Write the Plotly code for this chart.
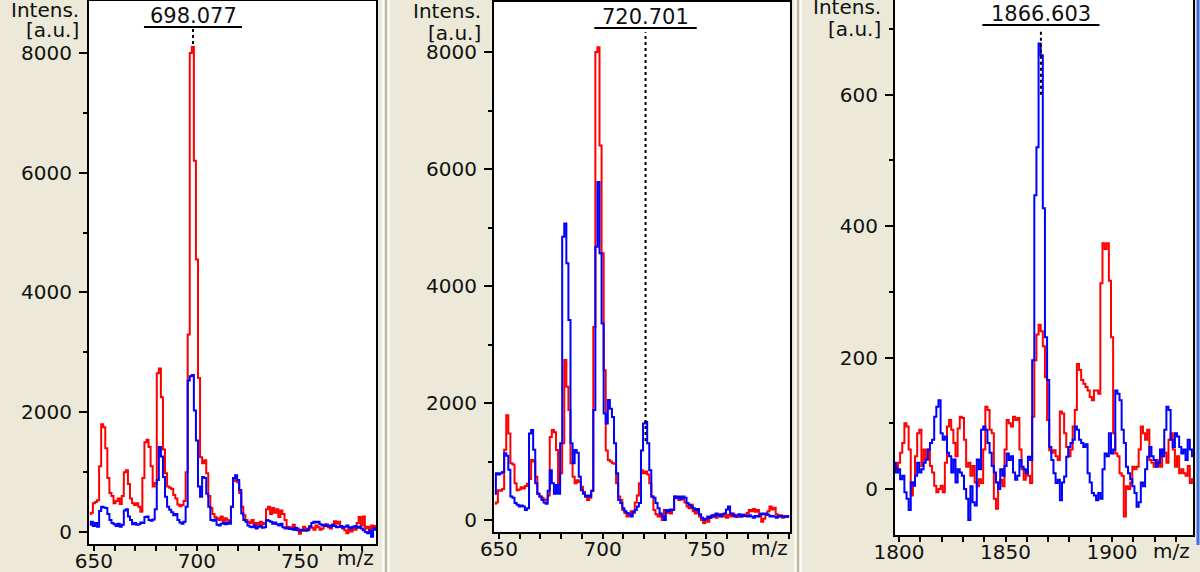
import numpy as np
import plotly.graph_objects as go

# ---------------------------------------------------------------
# Data, 1 m/z per sample
# ---------------------------------------------------------------
mz_a = np.arange(648, 788)
red_a = [300, 320, 480, 500, 530, 1100, 1800, 1750, 1400, 900,
         650, 600, 480, 520, 560, 470, 600, 1000, 1030, 800,
         560, 480, 450, 480, 420, 340, 900, 1500, 1540, 1420,
         1100, 760, 820, 2650, 2730, 2250, 1380, 980, 760, 740,
         720, 620, 560, 460, 430, 450, 520, 1000, 3300, 8000,
         8100, 6200, 4550, 2570, 1250, 1150, 1200, 980, 600, 400,
         300, 250, 230, 200, 260, 180, 230, 200, 180, 420,
         850, 870, 830, 650, 420, 280, 200, 170, 150, 200,
         130, 150, 120, 170, 130, 150, 380, 420, 300, 400,
         320, 380, 250, 360, 300, 200, 90, 80, 50, 120,
         40, 60, -30, 20, 90, 60, 30, 100, 70, 40,
         110, 80, 40, 60, 100, 130, 80, 60, 120, 180,
         140, 170, 90, 60, 30, -20, 50, 10, 80, 40,
         150, 250, 110, 260, 60, 90, 40, 110, 80, 100]
blue_a = [120, 170, 100, 150, 90, 350, 420, 410, 400, 300,
          200, 150, 130, 100, 140, 90, 120, 360, 380, 260,
          200, 130, 150, 120, 130, 160, 150, 250, 260, 200,
          190, 210, 380, 870, 1420, 1260, 920, 590, 420, 370,
          330, 280, 300, 200, 160, 140, 170, 420, 2530, 2600,
          2620, 2030, 1530, 760, 590, 920, 900, 640, 420, 200,
          190, 210, 120, 110, 140, 150, 130, 160, 140, 420,
          900, 950, 870, 700, 310, 200, 170, 110, 90, 80,
          110, 60, 90, 100, 70, 80, 200, 190, 170, 140,
          160, 130, 110, 140, 80, 60, 70, 50, 60, 40,
          70, 30, 20, 40, 30, 20, 40, 90, 150, 170,
          160, 170, 130, 110, 120, 100, 110, 90, 120, 100,
          80, 90, 100, 70, 90, 110, 80, 60, 90, 100,
          70, 90, 60, 30, 0, -20, 20, -80, 60, 40]

mz_b = np.arange(648, 791)
red_b = [280, 300, 510, 500, 530, 1200, 1790, 1480, 970, 950,
         630, 510, 520, 560, 540, 580, 620, 700, 1025, 1000,
         740, 450, 400, 380, 350, 340, 420, 1420, 1540, 1500,
         1195, 630, 800, 1310, 2735, 2280, 1880, 970, 740, 630,
         680, 650, 570, 480, 400, 340, 380, 500, 3300, 8000,
         8080, 6400, 4560, 2560, 1190, 1025, 1000, 970, 960, 630,
         400, 340, 170, 120, 60, 80, 150, 120, 300, 420,
         630, 850, 800, 830, 780, 630, 400, 170, 100, 60,
         90, 0, 170, 120, 150, 110, 170, 400, 370, 340,
         380, 350, 300, 230, 200, 260, 150, 110, 140, 60,
         0, -50, 10, -30, 40, 60, 90, 40, 70, 100,
         60, 80, 40, 90, 60, 110, 70, 50, 80, 60,
         90, 70, 120, 170, 150, 190, 140, 170, 60, -30,
         20, 90, 150, 230, 180, 210, 100, 60, 80, 40,
         70, 60, 50]
blue_b = [450, 800, 780, 800, 820, 1140, 1100, 860, 400, 380,
          290, 260, 230, 250, 230, 170, 200, 1480, 1540, 1200,
          630, 450, 400, 340, 300, 280, 500, 850, 630, 450,
          600, 450, 1310, 4840, 5070, 4390, 3420, 1310, 970, 1195,
          1150, 740, 510, 450, 400, 420, 400, 500, 1880, 4670,
          5780, 4560, 3360, 1820, 1650, 2050, 1900, 1760, 1310, 800,
          340, 290, 200, 150, 120, 100, 60, 140, 170, 230,
          290, 1190, 1650, 1675, 1310, 850, 400, 380, 290, 200,
          110, 60, 0, 170, 150, 180, 170, 400, 380, 400,
          360, 400, 380, 290, 260, 230, 200, 170, 190, 100,
          40, 0, 20, 60, 40, 80, 60, 110, 90, 60,
          100, 110, 180, 230, 110, 90, 60, 80, 100, 60,
          90, 70, 60, 80, 60, 40, 70, 60, 90, 110,
          100, 110, 90, 60, 70, 60, 40, 60, 70, 60,
          50, 60, 70]

mz_c = np.arange(1798, 1939)
red_c = [35, 30, 40, 55, 70, 100, 95, 60, -10, 10,
         50, 85, 90, 35, 60, 45, 60, 35, 25, 5,
         -5, 0, 5, -5, 40, 95, 105, 90, 70, 50,
         92, 110, 108, 75, 34, 40, 20, 35, 10, 4,
         15, 9, 60, 125, 120, 90, 85, -15, -30, 10,
         14, 4, 60, 105, 100, 95, 110, 105, 108, 60,
         30, 14, 29, 20, 9, 110, 196, 235, 250, 240,
         217, 170, 105, 59, 55, 59, 50, 44, 118, 115,
         85, 64, 50, 60, 95, 120, 190, 181, 166, 160,
         155, 150, 140, 135, 150, 150, 145, 313, 374, 365,
         374, 317, 231, 85, 54, 50, 24, 20, -42, 4,
         0, 10, 34, 30, 34, 60, 95, 85, 75, 90,
         44, 40, 34, 44, 38, 34, 60, 55, 40, 75,
         85, 60, 34, 50, 24, 30, 24, 20, 35, 9,
         15]
blue_c = [40, 25, 30, 15, 20, -5, -15, -32, 10, 5,
          20, 40, 25, 30, 40, 45, 60, 70, 75, 110,
          125, 135, 85, 75, 80, 55, 50, 25, 45, 10,
          30, 25, 20, 0, -15, -47, 4, -20, -25, 45,
          30, 90, 95, 90, 70, 55, 35, 25, 10, 0,
          30, 20, 35, 54, 44, 50, 25, 14, 20, 44,
          34, 30, 24, 49, 44, 196, 447, 520, 678, 660,
          427, 231, 166, 64, 44, 24, 9, 14, -17, 10,
          19, 49, 64, 70, 75, 95, 90, 75, 70, 64,
          68, 24, 10, -6, -10, -17, -6, -15, 30, 54,
          50, 85, 54, 60, 150, 145, 135, 90, 70, 34,
          24, 15, 4, -6, -27, -20, 10, 4, 30, 49,
          64, 50, 44, 34, 40, 60, 50, 90, 125, 120,
          75, 64, 85, 80, 64, 54, 60, 44, 75, 60,
          50]

peak_labels = ["698.077", "720.701", "1866.603"]
peak_mz = [698.077, 720.701, 1866.603]
x_ticks = [[650, 700, 750], [650, 700, 750], [1800, 1850, 1900]]

# ---------------------------------------------------------------
# Layout helpers (pixel positions in the 1200x572 page)
# ---------------------------------------------------------------
W, H = 1200, 572
def px(x):
    return x / W
def py(y):
    return 1 - y / H

FONT = "DejaVu Sans"
TXT = "#111111"
FS = 20

panels = [
    dict(xd=(89, 376), yd=(1, 544), xr=[647.6, 786.9], yr=[-200, 8867], dt=2000,
         mz=mz_a, red=red_a, blue=blue_a, line_bot=8150, line_top=8420, half=23.8,
         lab_y=16, ul_y=27, intens=(81, 10, 30), mzlab=(355, 558)),
    dict(xd=(494, 790), yd=(2, 532), xr=[647.6, 790.4], yr=[-205, 8855], dt=2000,
         mz=mz_b, red=red_b, blue=blue_b, line_bot=1350, line_top=8340, half=24.7,
         lab_y=17, ul_y=28, intens=(483, 11, 33), mzlab=(769, 548)),
    dict(xd=(895, 1193), yd=(-1, 535), xr=[1798.1, 1938], yr=[-70, 744], dt=200,
         mz=mz_c, red=red_c, blue=blue_c, line_bot=600, line_top=698, half=27.5,
         lab_y=14, ul_y=25, intens=(883, 7, 29), mzlab=(1171, 551)),
]

fig = go.Figure()
shapes = []
annotations = []

for i, p in enumerate(panels):
    n = "" if i == 0 else str(i + 1)
    xa, ya = "x" + n, "y" + n

    fig.add_trace(go.Scatter(x=p["mz"], y=p["red"], mode="lines", line_shape="hvh",
                             line=dict(color="#ff0000", width=2), xaxis=xa, yaxis=ya,
                             hoverinfo="skip"))
    fig.add_trace(go.Scatter(x=p["mz"], y=p["blue"], mode="lines", line_shape="hvh",
                             line=dict(color="#0000ff", width=2), xaxis=xa, yaxis=ya,
                             hoverinfo="skip"))

    fig.update_layout(**{
        "xaxis" + n: dict(
            domain=[px(p["xd"][0]), px(p["xd"][1])], range=p["xr"], anchor=ya,
            tickvals=x_ticks[i], ticks="outside", ticklen=5, tickwidth=2, tickcolor="black",
            minor=dict(dtick=10, tick0=0, ticks="outside", ticklen=5, tickwidth=2,
                       tickcolor="black"),
            showline=True, linewidth=2, linecolor="black", mirror=True,
            showgrid=False, zeroline=False, automargin=False, ticklabelstandoff=-7,
            tickfont=dict(family=FONT, size=FS, color=TXT)),
        "yaxis" + n: dict(
            domain=[py(p["yd"][1]), min(1, py(p["yd"][0]))], range=p["yr"], anchor=xa,
            dtick=p["dt"], tick0=0, ticks="outside", ticklen=8, tickwidth=2,
            tickcolor="black",
            minor=dict(dtick=p["dt"] / 2, tick0=0, ticks="outside", ticklen=4,
                       tickwidth=2, tickcolor="black"),
            showline=True, linewidth=2, linecolor="black", mirror=True,
            showgrid=False, zeroline=False, automargin=False, ticklabelstandoff=3,
            tickfont=dict(family=FONT, size=FS, color=TXT)),
    })

    # peak marker: dotted line, label and underline
    pk = peak_mz[i]
    shapes.append(dict(type="line", xref=xa, yref=ya, x0=pk, x1=pk,
                       y0=p["line_bot"], y1=p["line_top"], layer="above",
                       line=dict(color="black", width=2, dash="dot")))
    shapes.append(dict(type="line", xref=xa, yref="paper", x0=pk - p["half"],
                       x1=pk + p["half"], y0=py(p["ul_y"]), y1=py(p["ul_y"]),
                       line=dict(color="black", width=2)))
    annotations.append(dict(x=pk, xref=xa, y=py(p["lab_y"]), yref="paper",
                            xanchor="center", yanchor="middle", text=peak_labels[i],
                            showarrow=False, font=dict(family=FONT, size=FS + 1, color=TXT)))

    # axis captions
    ix, iy1, iy2 = p["intens"]
    annotations.append(dict(x=px(ix), y=py(iy1), xref="paper", yref="paper",
                            xanchor="right", yanchor="middle", text="Intens.",
                            showarrow=False, font=dict(family=FONT, size=FS, color=TXT)))
    annotations.append(dict(x=px(ix), y=py(iy2), xref="paper", yref="paper",
                            xanchor="right", yanchor="middle", text="[a.u.]",
                            showarrow=False, font=dict(family=FONT, size=FS, color=TXT)))
    mx, my = p["mzlab"]
    annotations.append(dict(x=px(mx), y=py(my), xref="paper", yref="paper",
                            xanchor="center", yanchor="middle", text="m/z",
                            showarrow=False, font=dict(family=FONT, size=FS, color=TXT)))

# window separators between the panels
for sx, col in [(383, "#ffffff"), (386, "#aca899"), (389, "#ffffff"),
                (795, "#ffffff"), (798, "#aca899"), (801, "#ffffff")]:
    shapes.append(dict(type="line", xref="paper", yref="paper", x0=px(sx), x1=px(sx),
                       y0=0, y1=1, line=dict(color=col, width=1.5)))
shapes.append(dict(type="line", xref="paper", yref="paper", x0=px(1198), x1=px(1198),
                   y0=py(545), y1=1, line=dict(color="#3a6ee8", width=3)))

fig.update_layout(
    width=W, height=H,
    margin=dict(l=0, r=0, t=0, b=0, autoexpand=False),
    paper_bgcolor="#ece9d8",
    plot_bgcolor="white",
    showlegend=False,
    shapes=shapes,
    annotations=annotations,
)

fig.write_html("out.html", config={"displayModeBar": False},
               post_script="document.body.style.margin='0';document.body.style.overflow='hidden';")
